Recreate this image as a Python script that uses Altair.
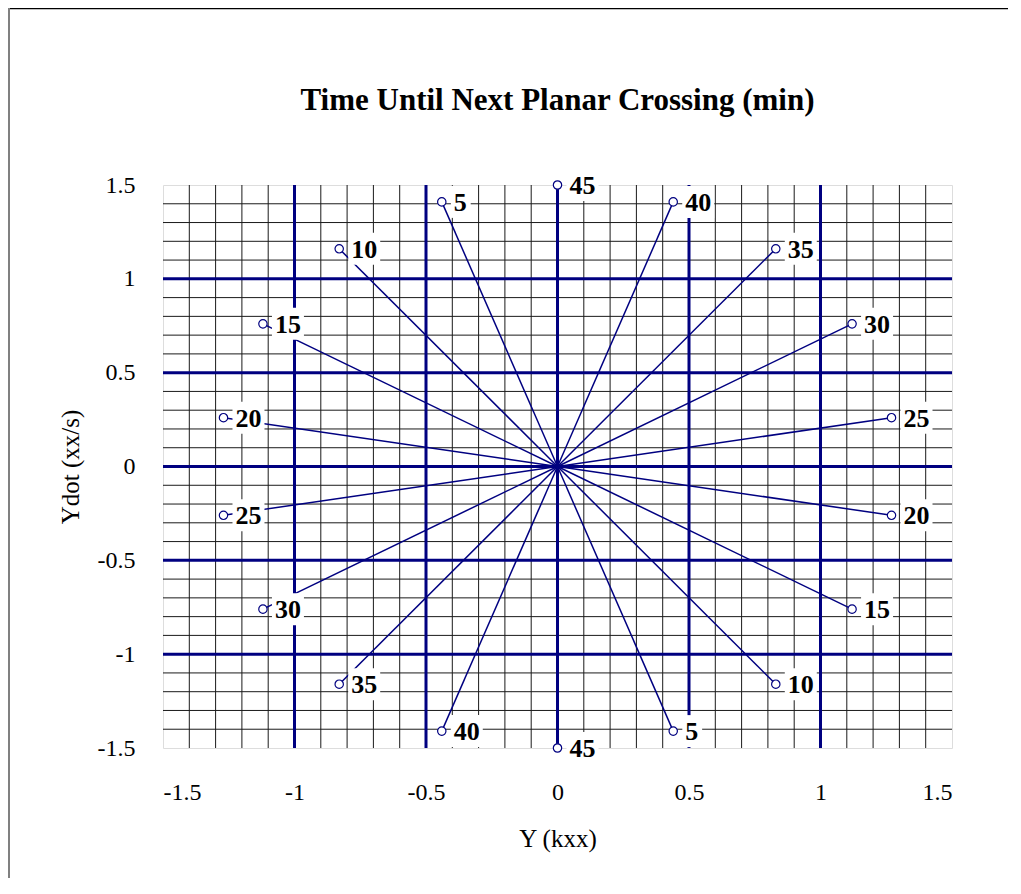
import altair as alt
import pandas as pd

# ---- values ----
minutes = ["5", "10", "15", "20", "25", "30", "35", "40", "45"]
# points running counter-clockwise from the top (left half, then bottom)
west_x = [-0.44, -0.83, -1.12, -1.27, -1.27, -1.12, -0.83, -0.44, 0.0]
west_y = [1.41, 1.16, 0.76, 0.26, -0.26, -0.76, -1.16, -1.41, -1.5]
# points running counter-clockwise from the bottom (right half, then top)
east_x = [0.44, 0.83, 1.12, 1.27, 1.27, 1.12, 0.83, 0.44, 0.0]
east_y = [-1.41, -1.16, -0.76, -0.26, 0.26, 0.76, 1.16, 1.41, 1.5]

tick_values = [-1.5, -1.0, -0.5, 0.0, 0.5, 1.0, 1.5]
major_grid = [-1.0, -0.5, 0.0, 0.5, 1.0]
minor_grid = [-1.4, -1.3, -1.2, -1.1, -0.9, -0.8, -0.7, -0.6, -0.4, -0.3, -0.2, -0.1,
              0.1, 0.2, 0.3, 0.4, 0.6, 0.7, 0.8, 0.9, 1.1, 1.2, 1.3, 1.4]

NAVY = "#000080"
SERIF = "Liberation Serif"

pts = pd.DataFrame({
    "label": minutes + minutes,
    "x": west_x + east_x,
    "y": west_y + east_y,
})
pts["ox"] = 0.0
pts["oy"] = 0.0

minor = pd.DataFrame({"v": minor_grid})
major = pd.DataFrame({"v": major_grid})
frame = pd.DataFrame({"k": [0]})

xscale = alt.Scale(domain=[-1.5, 1.5], nice=False, zero=False)
yscale = alt.Scale(domain=[-1.5, 1.5], nice=False, zero=False)

xaxis = alt.Axis(values=tick_values, labelExpr="toString(datum.value)", grid=False,
                 domain=False, ticks=False, tickSize=0, labelPadding=32,
                 labelFont=SERIF, labelFontSize=24, labelColor="black",
                 title="Y (kxx)", titleFont=SERIF, titleFontSize=25,
                 titleFontWeight="normal", titleColor="black",
                 titleBaseline="alphabetic", titleY=98)
yaxis = alt.Axis(values=tick_values, labelExpr="toString(datum.value)", grid=False,
                 domain=False, ticks=False, tickSize=0, labelPadding=28,
                 labelFont=SERIF, labelFontSize=24, labelColor="black",
                 title="Ydot (xx/s)", titleFont=SERIF, titleFontSize=25,
                 titleFontWeight="normal", titleColor="black",
                 titleBaseline="alphabetic", titleX=-85)

minor_v = alt.Chart(minor).mark_rule(color="#1a1a1a", strokeWidth=1).encode(
    x=alt.X("v:Q", scale=xscale, axis=xaxis))
minor_h = alt.Chart(minor).mark_rule(color="#1a1a1a", strokeWidth=1).encode(
    y=alt.Y("v:Q", scale=yscale, axis=yaxis))
major_v = alt.Chart(major).mark_rule(color=NAVY, strokeWidth=3).encode(
    x=alt.X("v:Q", scale=xscale, axis=xaxis))
major_h = alt.Chart(major).mark_rule(color=NAVY, strokeWidth=3).encode(
    y=alt.Y("v:Q", scale=yscale, axis=yaxis))

spokes = alt.Chart(pts).mark_rule(color=NAVY, strokeWidth=1.5).encode(
    x=alt.X("ox:Q", scale=xscale, axis=xaxis), x2="x:Q",
    y=alt.Y("oy:Q", scale=yscale, axis=yaxis), y2="y:Q")

box2 = alt.Chart(pts).transform_filter("length(datum.label) == 2").mark_point(
    shape="M-1,-1H1V1H-1Z", size=1024, filled=True, fill="white",
    strokeWidth=0, opacity=1, xOffset=25).encode(
    x=alt.X("x:Q", scale=xscale, axis=xaxis), y=alt.Y("y:Q", scale=yscale, axis=yaxis))
box1 = alt.Chart(pts).transform_filter("length(datum.label) == 1").mark_point(
    shape="M-0.62,-1H0.62V1H-0.62Z", size=1024, filled=True, fill="white",
    strokeWidth=0, opacity=1, xOffset=19).encode(
    x=alt.X("x:Q", scale=xscale, axis=xaxis), y=alt.Y("y:Q", scale=yscale, axis=yaxis))

markers = alt.Chart(pts).mark_point(shape="circle", size=70, filled=False, fill="white",
                                    fillOpacity=1, stroke=NAVY, strokeWidth=1.2,
                                    opacity=1).encode(
    x=alt.X("x:Q", scale=xscale, axis=xaxis), y=alt.Y("y:Q", scale=yscale, axis=yaxis))

labels = alt.Chart(pts).mark_text(align="left", baseline="middle", dx=12, dy=1,
                                  font=SERIF, fontWeight="bold", fontSize=26,
                                  color="black").encode(
    x=alt.X("x:Q", scale=xscale, axis=xaxis), y=alt.Y("y:Q", scale=yscale, axis=yaxis),
    text="label:N")

# thin outer frame of the chart (top and left edges, as in the reference)
top_border = alt.Chart(frame).mark_rule(color="black", strokeWidth=1.5).encode(
    x=alt.value(-155), x2=alt.value(845), y=alt.value(-176.5))
left_border = alt.Chart(frame).mark_rule(color="#808080", strokeWidth=2).encode(
    x=alt.value(-154), y=alt.value(-177), y2=alt.value(720))

chart = alt.layer(
    minor_v, minor_h, major_v, major_h, spokes, box2, box1, markers, labels,
    top_border, left_border
).properties(
    width=789, height=563,
    title=alt.TitleParams("Time Until Next Planar Crossing (min)", font=SERIF,
                          fontSize=31, fontWeight="bold", color="black",
                          anchor="middle", baseline="alphabetic", offset=-134),
    padding={"left": 155, "top": 177, "right": 60, "bottom": 130},
    autosize=alt.AutoSizeParams(type="none"),
).configure_view(
    stroke=NAVY, strokeWidth=3
).configure(background="white")

chart.save("out.html", embed_options={"renderer": "svg", "actions": False})
